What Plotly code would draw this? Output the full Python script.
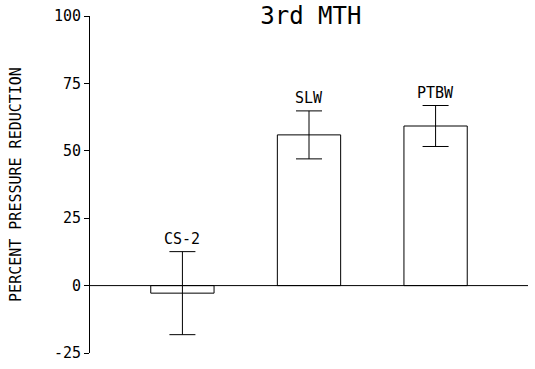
import plotly.graph_objects as go

categories = ["CS-2", "SLW", "PTBW"]
means = [-2.8, 55.9, 59.2]
errors = [15.4, 8.9, 7.6]
tick_vals = [-25, 0, 25, 50, 75, 100]
tick_text = ["-25", "0", "25", "50", "75", "100"]

FONT = "DejaVu Sans Mono"

fig = go.Figure()
fig.add_trace(go.Bar(
    x=list(range(len(categories))),
    y=means,
    width=0.5,
    marker=dict(color="white", line=dict(color="black", width=1)),
    error_y=dict(type="data", array=errors, visible=True, color="black", thickness=1, width=13),
    showlegend=False,
))

for i, (c, m, e) in enumerate(zip(categories, means, errors)):
    fig.add_annotation(x=i, y=m + e, text=c, showarrow=False, yanchor="middle", yshift=13,
                       font=dict(family=FONT, size=15, color="black"))

fig.add_shape(type="line", xref="paper", x0=0, x1=1, yref="y", y0=0, y1=0,
              line=dict(color="black", width=1))

fig.update_layout(
    width=535, height=369,
    margin=dict(l=90, r=7, t=15, b=13),
    plot_bgcolor="white", paper_bgcolor="white",
    title=dict(text="3rd MTH", x=0.581, xanchor="center", y=0.959, yanchor="middle",
               font=dict(family=FONT, size=24, color="black")),
    xaxis=dict(range=[-0.73, 2.73], showticklabels=False, showgrid=False, zeroline=False,
               showline=False, ticks=""),
    yaxis=dict(range=[-25, 100], tickvals=tick_vals, ticktext=tick_text, ticks="outside",
               ticklen=5, tickcolor="black", showline=True, linecolor="black", linewidth=1,
               showgrid=False, zeroline=False,
               tickfont=dict(family=FONT, size=15, color="black"),
               title=dict(text="PERCENT PRESSURE REDUCTION", standoff=28,
                          font=dict(family=FONT, size=15, color="black"))),
)

fig.write_html("out.html", config={"displayModeBar": False},
               post_script="document.body.style.margin='0';")
